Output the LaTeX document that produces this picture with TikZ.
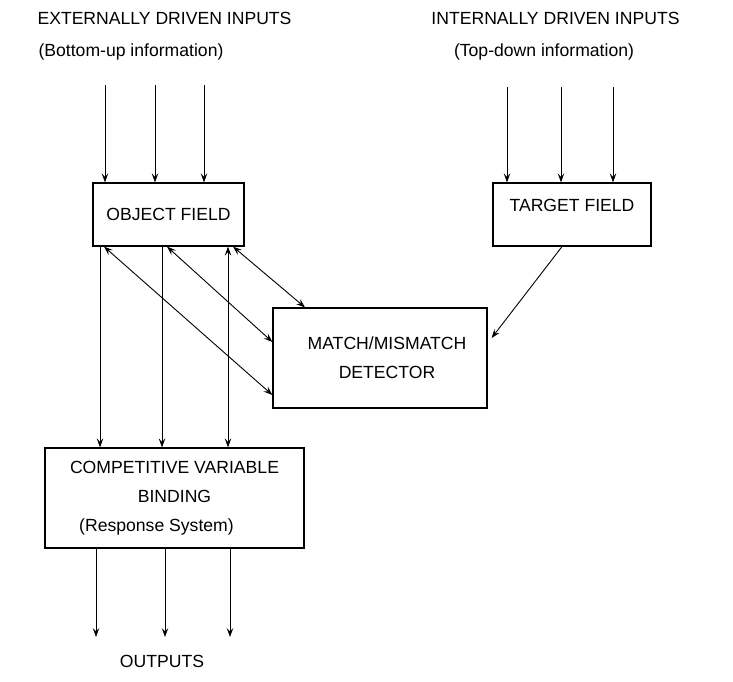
\documentclass[tikz,border=0pt]{standalone}
\usepackage{fontspec}
\setmainfont{Liberation Sans}
\usetikzlibrary{arrows.meta}

\begin{document}
\begin{tikzpicture}[x=1pt, y=-1pt, line width=0.9pt,
    every node/.style={font=\fontsize{17.6}{29}\selectfont},
    field/.style={rectangle, draw=black, line width=1.2pt, inner sep=0pt},
    >={Stealth[length=9pt, width=6.5pt, inset=3.5pt]}]
    \useasboundingbox (0,0) rectangle (733,681);

    % headings
    \node (exthead) at (164.5,18) {EXTERNALLY DRIVEN INPUTS};
    \node (extsub) at (131,52) {(Bottom-up information)};
    \node (inthead) at (555.5,18) {INTERNALLY DRIVEN INPUTS};
    \node (intsub) at (544,52) {(Top-down information)};
    \node (outputs) at (162,661) {OUTPUTS};

    % boxes
    \node (object) [field, minimum width=151pt, minimum height=63pt] at (168.5,214.5) {OBJECT FIELD};
    \node (target) [field, minimum width=158pt, minimum height=63pt, text height=13pt, text depth=20pt] at (572,214.5) {TARGET FIELD};
    \node (match) [field, minimum width=214pt, minimum height=100pt, align=center] at (380,358) {\hspace*{14pt}MATCH/MISMATCH\\\hspace*{14pt}DETECTOR};
    \node (binding) [field, minimum width=259pt, minimum height=100pt, align=center] at (174.5,498) {COMPETITIVE VARIABLE\\BINDING\\(Response System)\hspace*{36pt}};

    % inputs
    \foreach \x [count=\i] in {105,155,204} {
        \coordinate (ext\i) at (\x,85);
        \draw[->] (ext\i) -- (ext\i |- object.north);
    }
    \foreach \x [count=\i] in {507,561,613} {
        \coordinate (int\i) at (\x,87);
        \draw[->] (int\i) -- (int\i |- target.north);
    }

    % object field to response system
    \coordinate (col1) at (100,0);
    \coordinate (col2) at (162,0);
    \coordinate (col3) at (228,0);
    \draw[->] (col1 |- object.south) -- (col1 |- binding.north);
    \draw[->] (col2 |- object.south) -- (col2 |- binding.north);
    \draw[<->] (col3 |- object.south) -- (col3 |- binding.north);

    % object field and target field to detector
    \draw[<->] ([xshift=-64.5pt]object.south) -- ([yshift=-37pt]match.west);
    \draw[<->] ([xshift=-1.5pt]object.south) -- ([yshift=16pt]match.west);
    \draw[<->] ([xshift=64.5pt]object.south) -- ([xshift=-75pt]match.north);
    \draw[->] ([xshift=-10pt]target.south) -- ([xshift=4pt, yshift=20pt]match.east);

    % outputs
    \foreach \x [count=\i] in {96,165,230} {
        \coordinate (out\i) at (\x,637);
        \draw[->] (out\i |- binding.south) -- (out\i);
    }
\end{tikzpicture}
\end{document}
